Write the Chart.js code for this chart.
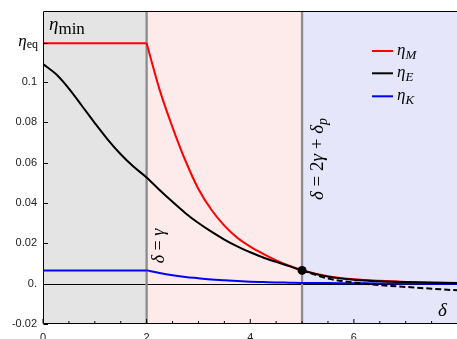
<!DOCTYPE html>
<html>
<head>
<meta charset="utf-8">
<script src="https://cdn.jsdelivr.net/npm/chart.js@4.4.0/dist/chart.umd.min.js"></script>
<style>
    html, body { margin: 0; padding: 0; overflow: hidden; background: #fff; }
    canvas { display: block; }
</style>
</head>
<body>
<canvas id="etaChart" width="462" height="350"></canvas>
<script>
(function () {
    'use strict';

    // values
    var etaEq = 0.1193;
    var xFlat = [0, 2];
    var etaMFlat = [etaEq, etaEq];
    var etaKFlat = [0.0066, 0.0066];

    var xDecay = [2, 2.25, 2.5, 2.75, 3, 3.25, 3.5, 3.75, 4, 4.25, 4.5, 4.75, 5, 5.5, 6, 6.5, 7, 7.5, 8];
    var etaM = [0.1193, 0.0963, 0.0776, 0.0610, 0.0470, 0.0367, 0.0288, 0.0228, 0.0184, 0.0148, 0.0116, 0.0089, 0.0067, 0.0037, 0.0022, 0.0014, 0.0009, 0.0006, 0.0004];
    var etaK = [0.0066, 0.0053, 0.0042, 0.0033, 0.0027, 0.0021, 0.0017, 0.0013, 0.0010, 0.0008, 0.0006, 0.0005, 0.0004, 0.0003, 0.0002, 0.0001, 0.0001, 0.0000, 0.0000];

    var xE = [0, 0.25, 0.5, 0.75, 1, 1.25, 1.5, 1.75, 2, 2.25, 2.5, 2.75, 3, 3.25, 3.5, 3.75, 4, 4.25, 4.5, 4.75, 5, 5.5, 6, 6.5, 7, 7.5, 8];
    var etaE = [0.1090, 0.1040, 0.0968, 0.0883, 0.0797, 0.0715, 0.0642, 0.0580, 0.0527, 0.0465, 0.0406, 0.0350, 0.0301, 0.0258, 0.0219, 0.0185, 0.0156, 0.0130, 0.0108, 0.0087, 0.0066, 0.0035, 0.0020, 0.0012, 0.0008, 0.0005, 0.0003];

    var xDash = [5, 5.5, 6, 6.5, 7, 7.5, 8];
    var etaEDash = [0.0066, 0.0026, 0.0006, -0.0007, -0.0016, -0.0025, -0.0033];

    var dotX = [5];
    var dotY = [0.0066];

    var regionEdges = [0, 2, 5, 8];
    var regionColors = ['#e4e4e4', '#fdeaea', '#e6e6fa'];
    var markerLines = [2, 5];

    var xTicks = [0, 2, 4, 6];
    var xMinorTicks = [0.5, 1, 1.5, 2.5, 3, 3.5, 4.5, 5, 5.5, 6.5, 7, 7.5];
    var yTicks = [-0.02, 0, 0.02, 0.04, 0.06, 0.08, 0.1];
    var yTickLabels = ['-0.02', '0.', '0.02', '0.04', '0.06', '0.08', '0.1'];

    var legendSubs = ['M', 'E', 'K'];
    var legendColors = ['#ff0000', '#000000', '#0000ff'];

    var SERIF = '"Liberation Serif", "DejaVu Serif", serif';
    var SANS = '"Liberation Sans", Arial, sans-serif';

    function pts(xs, ys) {
        return xs.map(function (x, i) { return { x: x, y: ys[i] }; });
    }

    function font(style, size, fam) { return style + ' ' + size + 'px ' + fam; }

    // parts: [{t, f, dy}] drawn side by side on one baseline
    function drawRich(ctx, parts, x, y, align) {
        var w = 0;
        parts.forEach(function (p) {
            ctx.font = p.f;
            p.w = ctx.measureText(p.t).width;
            w += p.w;
        });
        var cx = align === 'right' ? x - w : (align === 'center' ? x - w / 2 : x);
        ctx.textAlign = 'left';
        ctx.textBaseline = 'alphabetic';
        parts.forEach(function (p) {
            ctx.font = p.f;
            ctx.fillText(p.t, cx, y + (p.dy || 0));
            cx += p.w;
        });
    }

    var backdrop = {
        id: 'backdrop',
        beforeDatasetsDraw: function (chart) {
            var ctx = chart.ctx, a = chart.chartArea;
            var xs = chart.scales.x, ys = chart.scales.y;
            ctx.save();
            for (var i = 0; i < regionColors.length; i++) {
                var x0 = xs.getPixelForValue(regionEdges[i]);
                var x1 = xs.getPixelForValue(regionEdges[i + 1]);
                ctx.fillStyle = regionColors[i];
                ctx.fillRect(x0, a.top, x1 - x0, a.bottom - a.top);
            }
            // zero line
            var y0 = Math.round(ys.getPixelForValue(0)) + 0.5;
            ctx.strokeStyle = '#000';
            ctx.lineWidth = 1;
            ctx.beginPath();
            ctx.moveTo(a.left, y0);
            ctx.lineTo(a.right, y0);
            ctx.stroke();
            // region borders
            ctx.strokeStyle = '#8c8c8c';
            ctx.lineWidth = 2.3;
            markerLines.forEach(function (v) {
                var px = xs.getPixelForValue(v);
                ctx.beginPath();
                ctx.moveTo(px, a.top);
                ctx.lineTo(px, a.bottom);
                ctx.stroke();
            });
            ctx.restore();
        }
    };

    var frameAndText = {
        id: 'frameAndText',
        afterDraw: function (chart) {
            var ctx = chart.ctx, a = chart.chartArea;
            var xs = chart.scales.x, ys = chart.scales.y;
            ctx.save();

            // frame: left, top, bottom
            ctx.strokeStyle = '#000';
            ctx.lineWidth = 1;
            var l = Math.round(a.left) + 0.5, t = Math.round(a.top) + 0.5, b = Math.round(a.bottom) - 0.5;
            ctx.beginPath();
            ctx.moveTo(a.right, t);
            ctx.lineTo(l, t);
            ctx.lineTo(l, b);
            ctx.lineTo(a.right, b);
            ctx.stroke();

            // inward ticks
            ctx.beginPath();
            xTicks.forEach(function (v) {
                var px = xs.getPixelForValue(v);
                ctx.moveTo(px, b); ctx.lineTo(px, b - 4.5);
            });
            xMinorTicks.forEach(function (v) {
                var px = xs.getPixelForValue(v);
                ctx.moveTo(px, b); ctx.lineTo(px, b - 2.5);
            });
            yTicks.concat([etaEq]).forEach(function (v) {
                var py = Math.round(ys.getPixelForValue(v)) + 0.5;
                ctx.moveTo(l, py); ctx.lineTo(l + 4.5, py);
            });
            ctx.stroke();

            // tick labels
            ctx.fillStyle = '#222';
            ctx.font = font('', 11, SANS);
            ctx.textAlign = 'right';
            ctx.textBaseline = 'middle';
            yTicks.forEach(function (v, i) {
                ctx.fillText(yTickLabels[i], a.left - 6, ys.getPixelForValue(v));
            });
            ctx.textAlign = 'center';
            ctx.textBaseline = 'top';
            xTicks.forEach(function (v) {
                ctx.fillText(String(v), xs.getPixelForValue(v), a.bottom + 8);
            });
            ctx.fillStyle = '#000';
            drawRich(ctx, [
                { t: '\u03b7', f: font('italic', 17, SERIF) },
                { t: 'eq', f: font('', 12, SERIF), dy: 2 }
            ], a.left - 5, ys.getPixelForValue(etaEq) + 3, 'right');

            // labels inside the plot
            drawRich(ctx, [
                { t: '\u03b7', f: font('italic', 19, SERIF) },
                { t: 'min', f: font('', 17, SERIF), dy: 4 }
            ], 49, 29.5, 'left');

            drawRich(ctx, [
                { t: '\u03b4', f: font('italic', 19, SERIF) }
            ], 438, 316, 'left');

            ctx.save();
            ctx.translate(164, 246);
            ctx.rotate(-Math.PI / 2);
            drawRich(ctx, [
                { t: '\u03b4', f: font('italic', 18, SERIF) },
                { t: ' = ', f: font('', 18, SERIF) },
                { t: '\u03b3', f: font('italic', 18, SERIF) }
            ], 0, 0, 'center');
            ctx.restore();

            ctx.save();
            ctx.translate(323, 159);
            ctx.rotate(-Math.PI / 2);
            drawRich(ctx, [
                { t: '\u03b4', f: font('italic', 19, SERIF) },
                { t: ' = 2', f: font('', 19, SERIF) },
                { t: '\u03b3', f: font('italic', 19, SERIF) },
                { t: ' + ', f: font('', 19, SERIF) },
                { t: '\u03b4', f: font('italic', 19, SERIF) },
                { t: 'p', f: font('italic', 14, SERIF), dy: 4 }
            ], 0, 0, 'center');
            ctx.restore();

            // legend
            var ly = [51, 73.3, 96.3];
            legendSubs.forEach(function (s, i) {
                ctx.strokeStyle = legendColors[i];
                ctx.lineWidth = 2;
                ctx.beginPath();
                ctx.moveTo(372, ly[i]);
                ctx.lineTo(393, ly[i]);
                ctx.stroke();
                ctx.fillStyle = '#000';
                drawRich(ctx, [
                    { t: '\u03b7', f: font('italic', 17, SERIF) },
                    { t: s, f: font('italic', 13, SERIF), dy: 4 }
                ], 397, ly[i] + 4, 'left');
            });

            ctx.restore();
        }
    };

    function line(data, color, extra) {
        var ds = {
            data: data,
            borderColor: color,
            borderWidth: 2,
            pointRadius: 0,
            fill: false,
            cubicInterpolationMode: 'monotone'
        };
        for (var k in extra) ds[k] = extra[k];
        return ds;
    }

    new Chart(document.getElementById('etaChart').getContext('2d'), {
        type: 'line',
        data: {
            datasets: [
                {
                    data: pts(dotX, dotY),
                    showLine: false,
                    pointRadius: 4.5,
                    pointBackgroundColor: '#000',
                    pointBorderColor: '#000',
                    borderWidth: 0
                },
                line(pts(xE, etaE), '#000000'),
                line(pts(xDash, etaEDash), '#000000', { borderDash: [6, 3] }),
                line(pts(xFlat, etaKFlat), '#0000ff'),
                line(pts(xDecay, etaK), '#0000ff'),
                line(pts(xFlat, etaMFlat), '#ff0000'),
                line(pts(xDecay, etaM), '#ff0000')
            ]
        },
        options: {
            responsive: false,
            animation: false,
            events: [],
            layout: { padding: { left: 43, top: 11, right: 1, bottom: 26 } },
            scales: {
                x: { type: 'linear', min: 0, max: 8, display: false },
                y: { type: 'linear', min: -0.02, max: 0.1353, display: false }
            },
            plugins: { legend: { display: false }, tooltip: { enabled: false } }
        },
        plugins: [backdrop, frameAndText]
    });
})();
</script>
</body>
</html>
